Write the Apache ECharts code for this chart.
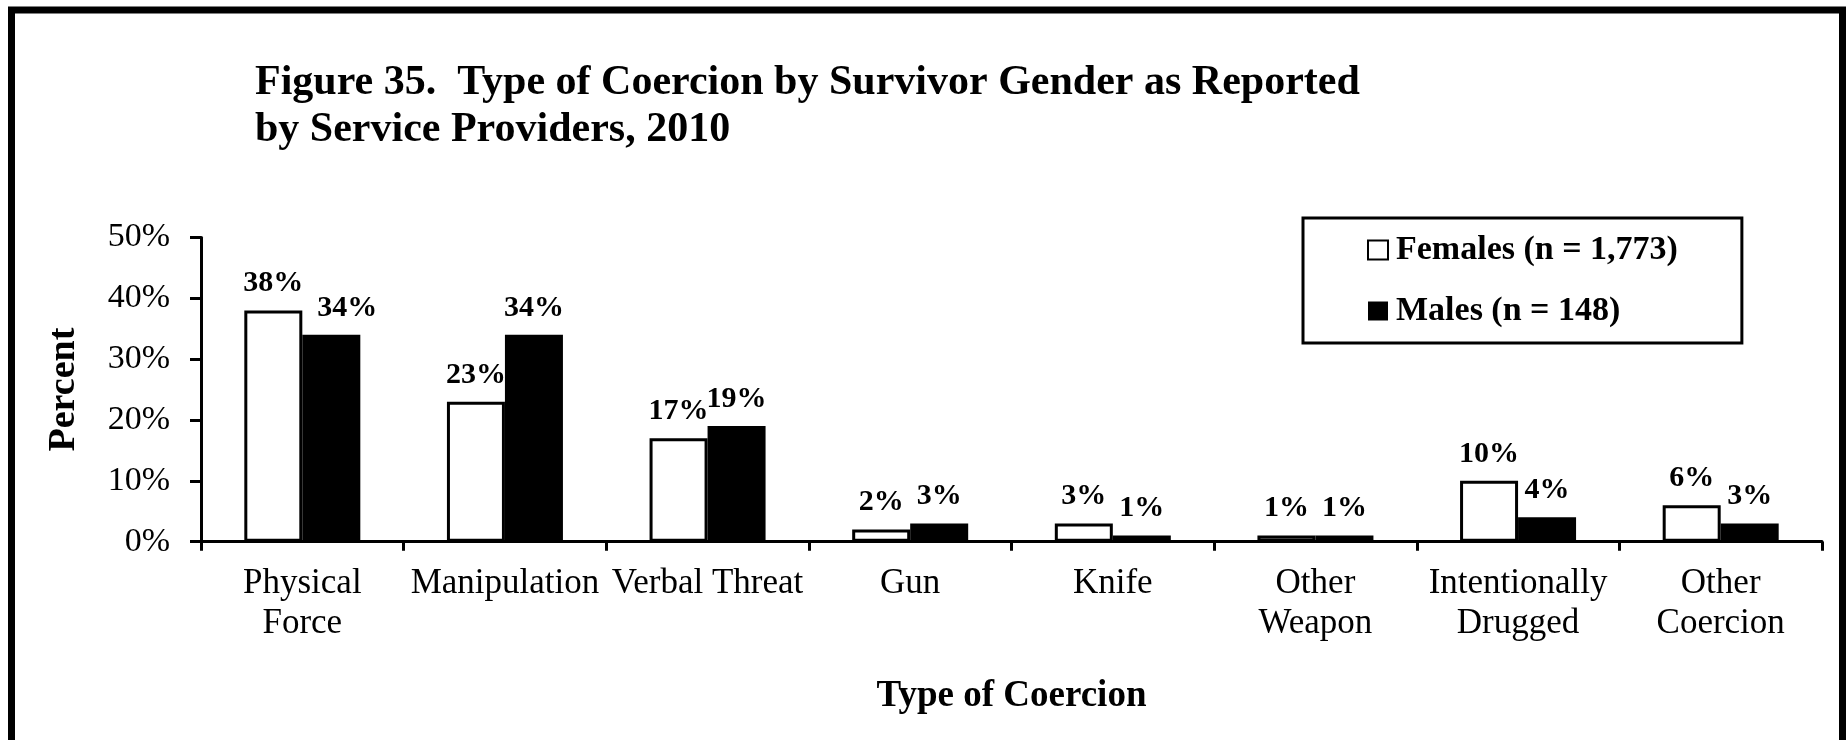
<!DOCTYPE html>
<html>
<head>
<meta charset="UTF-8">
<title>Figure 35</title>
<script src="https://cdn.jsdelivr.net/npm/echarts@6/dist/echarts.min.js"></script>
<style>
  html, body { margin: 0; padding: 0; background: #fff; }
  #chart { width: 1847px; height: 740px; }
</style>
</head>
<body>
<div id="chart"></div>
<script>
// categories and values
var categories = ['Physical\nForce', 'Manipulation', 'Verbal Threat', 'Gun', 'Knife',
                  'Other\nWeapon', 'Intentionally\nDrugged', 'Other\nCoercion'];
var females = [38, 23, 17, 2, 3, 1, 10, 6];
var males = [34, 34, 19, 3, 1, 1, 4, 3];
var yTicks = [0, 10, 20, 30, 40, 50];

var serif = 'Liberation Serif, Times New Roman, serif';

var myChart = echarts.init(document.getElementById('chart'));

var labelStyle = {
    show: true,
    position: 'top',
    distance: 12,
    color: '#000',
    fontFamily: serif,
    fontWeight: 'bold',
    fontSize: 30,
    formatter: '{c}%'
};

var option = {
    backgroundColor: '#fff',
    animation: false,
    // outer frame
    graphic: [{
        type: 'rect',
        shape: { x: 11.5, y: 10, width: 1831, height: 800 },
        style: { fill: 'none', stroke: '#000', lineWidth: 7 },
        silent: true
    }],
    title: {
        text: 'Figure 35.  Type of Coercion by Survivor Gender as Reported\nby Service Providers, 2010',
        left: 255,
        top: 60,
        padding: 0,
        textStyle: {
            fontFamily: serif,
            fontWeight: 'bold',
            fontSize: 42,
            lineHeight: 47,
            color: '#000'
        }
    },
    legend: {
        orient: 'vertical',
        left: 1303,
        top: 218,
        padding: [15, 64, 15, 64],
        icon: 'rect',
        itemWidth: 20,
        itemHeight: 19,
        itemGap: 27,
        borderColor: '#000',
        borderWidth: 3,
        itemStyle: { borderWidth: 2 },
        textStyle: {
            fontFamily: serif,
            fontWeight: 'bold',
            fontSize: 34,
            color: '#000',
            padding: [0, 0, 0, 3]
        },
        data: ['Females (n = 1,773)', 'Males (n = 148)']
    },
    grid: {
        left: 201,
        right: 25,
        top: 237.5,
        bottom: 198.3
    },
    xAxis: {
        type: 'category',
        data: categories,
        name: 'Type of Coercion',
        nameLocation: 'middle',
        nameGap: 136,
        nameTextStyle: {
            fontFamily: serif,
            fontWeight: 'bold',
            fontSize: 37,
            color: '#000'
        },
        axisLine: { lineStyle: { color: '#000', width: 3 } },
        axisTick: { show: true, length: 9, lineStyle: { color: '#000', width: 3 } },
        axisLabel: {
            interval: 0,
            margin: 22,
            fontFamily: serif,
            fontSize: 35,
            lineHeight: 40,
            color: '#000'
        }
    },
    yAxis: {
        type: 'value',
        min: yTicks[0],
        max: yTicks[yTicks.length - 1],
        interval: 10,
        name: 'Percent',
        nameLocation: 'middle',
        nameGap: 118,
        nameTextStyle: {
            fontFamily: serif,
            fontWeight: 'bold',
            fontSize: 38,
            color: '#000'
        },
        axisLine: { show: true, lineStyle: { color: '#000', width: 3 } },
        axisTick: { show: true, length: 11, lineStyle: { color: '#000', width: 3 } },
        splitLine: { show: false },
        axisLabel: {
            margin: 31,
            fontFamily: serif,
            fontSize: 34,
            color: '#000',
            formatter: '{value}%'
        }
    },
    series: [{
        name: 'Females (n = 1,773)',
        type: 'bar',
        barWidth: 58,
        barGap: '0%',
        data: females,
        itemStyle: { color: '#fff', borderColor: '#000', borderWidth: 3 },
        label: labelStyle
    }, {
        name: 'Males (n = 148)',
        type: 'bar',
        barWidth: 58,
        barGap: '0%',
        // first male label sits a little to the right in the original
        data: males.map(function (v, i) {
            return i === 0 ? { value: v, label: { offset: [16, 0] } } : v;
        }),
        itemStyle: { color: '#000' },
        label: labelStyle
    }]
};

myChart.setOption(option);
</script>
</body>
</html>
